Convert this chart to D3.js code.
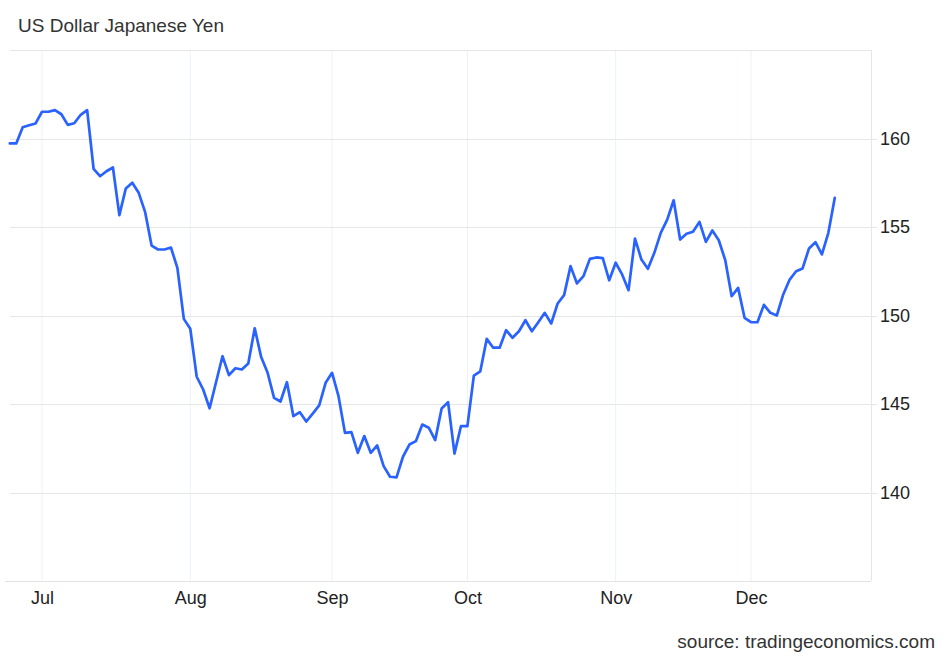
<!DOCTYPE html>
<html>
<head>
<meta charset="utf-8">
<script src="https://cdn.jsdelivr.net/npm/d3@7"></script>
<style>
  html, body { margin: 0; padding: 0; background: #fff; }
  svg { display: block; font-family: Arial, "Liberation Sans", sans-serif; }
</style>
</head>
<body>
<svg id="chart" width="948" height="657"></svg>
<script>
// ---- data ----
const title = "US Dollar Japanese Yen";
const sourceText = "source: tradingeconomics.com";
const startDate = "2024-06-24";
const endDate = "2024-12-19";
const monthLabels = ["Jul", "Aug", "Sep", "Oct", "Nov", "Dec"];
const yTicks = [140, 145, 150, 155, 160];
const yDomain = [135, 165];
const usdjpy = [
  159.72, 159.72, 160.64, 160.75, 160.85, 161.51, 161.51, 161.60, 161.37, 160.77,
  160.86, 161.34, 161.60, 158.29, 157.87, 158.15, 158.36, 155.67, 157.18, 157.50,
  156.93, 155.84, 153.95, 153.73, 153.73, 153.84, 152.69, 149.81, 149.25, 146.54,
  145.82, 144.76, 146.23, 147.70, 146.63, 147.02, 146.95, 147.29, 149.28, 147.65,
  146.76, 145.35, 145.14, 146.23, 144.31, 144.54, 144.01, 144.46, 144.92, 146.20,
  146.76, 145.44, 143.37, 143.41, 142.24, 143.19, 142.24, 142.66, 141.49, 140.89,
  140.85, 142.02, 142.71, 142.90, 143.84, 143.66, 142.96, 144.75, 145.10, 142.20,
  143.75, 143.75, 146.61, 146.85, 148.68, 148.18, 148.18, 149.17, 148.74, 149.11,
  149.73, 149.11, 149.62, 150.15, 149.55, 150.68, 151.15, 152.79, 151.81, 152.22,
  153.20, 153.28, 153.24, 151.99, 152.98, 152.32, 151.43, 154.34, 153.16, 152.64,
  153.54, 154.67, 155.42, 156.51, 154.29, 154.62, 154.73, 155.29, 154.16, 154.80,
  154.25, 153.13, 151.09, 151.56, 149.87, 149.62, 149.62, 150.60, 150.15, 150.00,
  151.19, 152.03, 152.50, 152.66, 153.79, 154.14, 153.45, 154.67, 156.65
];

// trading days (weekdays) as categories
const parse = d3.utcParse("%Y-%m-%d");
const dates = d3.utcDays(parse(startDate), d3.utcDay.offset(parse(endDate), 1))
  .filter(d => d.getUTCDay() !== 0 && d.getUTCDay() !== 6);
const data = dates.map((d, i) => ({ date: d, value: usdjpy[i] }));

// first trading day of each month -> tick positions
const monthStarts = dates.filter((d, i) => i > 0 && d.getUTCMonth() !== dates[i - 1].getUTCMonth());

const svg = d3.select("#chart");
const plotLeft = 10, plotRight = 871, plotTop = 50, plotBottom = 581;

const x = d3.scalePoint().domain(dates.map(d => +d)).range([9.8, 834.8]);
const y = d3.scaleLinear().domain(yDomain).range([plotBottom, plotTop]);

// vertical grid lines at month starts
svg.append("g").selectAll("line").data(monthStarts).join("line")
  .attr("x1", d => x(+d)).attr("x2", d => x(+d))
  .attr("y1", plotTop).attr("y2", plotBottom)
  .attr("stroke", "#edf1f6").attr("stroke-width", 1);

// horizontal grid lines
const gridVals = d3.range(yDomain[0], yDomain[1] + 0.1, 5);
svg.append("g").selectAll("line").data(gridVals).join("line")
  .attr("x1", plotLeft).attr("x2", d => (yTicks.includes(d) ? 877 : plotRight))
  .attr("y1", d => Math.round(y(d)) + 0.5).attr("y2", d => Math.round(y(d)) + 0.5)
  .attr("stroke", "#e6e6e6").attr("stroke-width", 1);

// bottom axis baseline (slightly wider)
svg.append("line")
  .attr("x1", 5).attr("x2", plotRight)
  .attr("y1", Math.round(y(yDomain[0])) + 0.5).attr("y2", Math.round(y(yDomain[0])) + 0.5)
  .attr("stroke", "#e3e3e3").attr("stroke-width", 1);

// right border line
svg.append("line")
  .attr("x1", plotRight + 0.5).attr("x2", plotRight + 0.5)
  .attr("y1", plotTop).attr("y2", plotBottom)
  .attr("stroke", "#e6e6e6").attr("stroke-width", 1);

// right y axis labels
const yAxis = d3.axisRight(y).tickValues(yTicks).tickSize(0).tickPadding(0).tickFormat(d3.format("d"));
const gy = svg.append("g").attr("transform", `translate(880,0)`).call(yAxis);
gy.select(".domain").remove();
gy.selectAll("text").attr("font-size", 18).attr("fill", "#222")
  .attr("font-family", "Arial, 'Liberation Sans', sans-serif");

// bottom x axis labels
const xAxis = d3.axisBottom(x).tickValues(monthStarts.map(d => +d)).tickSize(0).tickPadding(0)
  .tickFormat((d, i) => monthLabels[i]);
const gx = svg.append("g").attr("transform", `translate(0,591)`).call(xAxis);
gx.select(".domain").remove();
gx.selectAll("text").attr("font-size", 18).attr("fill", "#222")
  .attr("font-family", "Arial, 'Liberation Sans', sans-serif");

// line
const line = d3.line().x(d => x(+d.date)).y(d => y(d.value));
svg.append("path").datum(data)
  .attr("d", line)
  .attr("fill", "none")
  .attr("stroke", "#2962ff")
  .attr("stroke-width", 2.7)
  .attr("stroke-linejoin", "round")
  .attr("stroke-linecap", "round");

// title
svg.append("text").attr("x", 18).attr("y", 32)
  .attr("font-size", 19).attr("fill", "#333").text(title);

// source
svg.append("text").attr("x", 935).attr("y", 648).attr("text-anchor", "end")
  .attr("font-size", 19).attr("fill", "#333").text(sourceText);
</script>
</body>
</html>
